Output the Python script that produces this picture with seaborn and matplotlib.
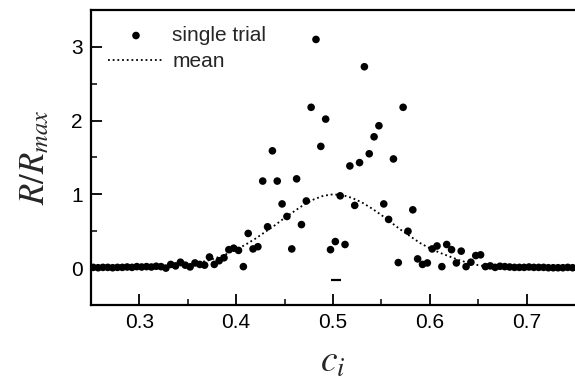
import matplotlib
matplotlib.use("Agg")
import matplotlib.pyplot as plt
import seaborn as sns
import pandas as pd

# ---- data ----
trial_c = [0.2525, 0.2575, 0.2625, 0.2675, 0.2725, 0.2775, 0.2825, 0.2875, 0.2925, 0.2975,
           0.3025, 0.3075, 0.3125, 0.3175, 0.3225, 0.3275, 0.3325, 0.3375, 0.3425, 0.3475,
           0.3525, 0.3575, 0.3625, 0.3675, 0.3725, 0.3775, 0.3825, 0.3875, 0.3925, 0.3975,
           0.4025, 0.4075, 0.4125, 0.4175, 0.4225, 0.4275, 0.4325, 0.4375, 0.4425, 0.4475,
           0.4525, 0.4575, 0.4625, 0.4675, 0.4725, 0.4775, 0.4825, 0.4875, 0.4925, 0.4975,
           0.5025, 0.5075, 0.5125, 0.5175, 0.5225, 0.5275, 0.5325, 0.5375, 0.5425, 0.5475,
           0.5525, 0.5575, 0.5625, 0.5675, 0.5725, 0.5775, 0.5825, 0.5875, 0.5925, 0.5975,
           0.6025, 0.6075, 0.6125, 0.6175, 0.6225, 0.6275, 0.6325, 0.6375, 0.6425, 0.6475,
           0.6525, 0.6575, 0.6625, 0.6675, 0.6725, 0.6775, 0.6825, 0.6875, 0.6925, 0.6975,
           0.7025, 0.7075, 0.7125, 0.7175, 0.7225, 0.7275, 0.7325, 0.7375, 0.7425, 0.7475]
trial_r = [0.01, 0.005, 0.01, 0.01, 0.005, 0.01, 0.01, 0.015, 0.01, 0.02,
           0.015, 0.02, 0.015, 0.025, 0.02, 0.0, 0.05, 0.03, 0.08, 0.04,
           0.016, 0.07, 0.05, 0.04, 0.15, 0.05, 0.10, 0.14, 0.25, 0.27,
           0.24, 0.02, 0.47, 0.26, 0.29, 1.18, 0.56, 1.59, 1.18, 0.87,
           0.70, 0.26, 1.21, 0.59, 0.91, 2.18, 3.10, 1.65, 2.02, 0.25,
           0.36, 0.98, 0.32, 1.385, 0.85, 1.43, 2.73, 1.55, 1.78, 1.93,
           0.87, 0.66, 1.48, 0.075, 2.18, 0.50, 0.79, 0.125, 0.05, 0.07,
           0.26, 0.30, 0.02, 0.32, 0.25, 0.07, 0.23, 0.02, 0.08, 0.17,
           0.18, 0.02, 0.03, 0.01, 0.025, 0.02, 0.015, 0.01, 0.01, 0.01,
           0.015, 0.01, 0.01, 0.01, 0.005, 0.005, 0.005, 0.005, 0.01, 0.005]

mean_c = [0.25, 0.26, 0.27, 0.28, 0.29, 0.30, 0.31, 0.32, 0.33, 0.34, 0.35, 0.36, 0.37,
          0.38, 0.39, 0.40, 0.41, 0.42, 0.43, 0.44, 0.45, 0.46, 0.47, 0.48, 0.49, 0.50,
          0.51, 0.52, 0.53, 0.54, 0.55, 0.56, 0.57, 0.58, 0.59, 0.60, 0.61, 0.62, 0.63,
          0.64, 0.65, 0.66, 0.67, 0.68, 0.69, 0.70, 0.71, 0.72, 0.73, 0.74, 0.75]
mean_r = [0.0, 0.0, 0.0, 0.0, 0.0, 0.005, 0.01, 0.015, 0.02, 0.03, 0.05, 0.07, 0.10,
          0.14, 0.19, 0.25, 0.32, 0.40, 0.49, 0.58, 0.68, 0.77, 0.86, 0.93, 0.98, 1.0,
          0.99, 0.95, 0.89, 0.81, 0.72, 0.62, 0.52, 0.43, 0.34, 0.27, 0.21, 0.16, 0.11,
          0.07, 0.04, 0.02, 0.01, 0.0, 0.0, 0.0, 0.0, 0.0, 0.0, 0.0, 0.0]

# small stray dash visible under the peak
dash_c = [0.503]
dash_r = [-0.16]

x_ticks = [0.3, 0.4, 0.5, 0.6, 0.7]
y_ticks = [0, 1, 2, 3]

# ---- styling ----
sns.set_style("ticks")
plt.rcParams["font.family"] = ["Liberation Sans", "DejaVu Sans"]
plt.rcParams["mathtext.fontset"] = "stix"

fig = plt.figure(figsize=(5.75, 3.82), dpi=100)
ax = fig.add_axes([0.158, 0.2016, 0.842, 0.7724])

df_trial = pd.DataFrame({"c": trial_c, "r": trial_r})
df_mean = pd.DataFrame({"c": mean_c, "r": mean_r})

sns.lineplot(data=df_mean, x="c", y="r", ax=ax, color="black",
             linestyle=(0, (1, 1.6)), linewidth=1.3, label="mean", zorder=2)
sns.scatterplot(data=df_trial, x="c", y="r", ax=ax, color="black", s=30,
                edgecolor="none", label="single trial", zorder=3)
ax.plot(dash_c, dash_r, marker="_", markersize=7, mew=1.6, color="black",
        linestyle="none")

ax.set_xlim(0.25, 0.75)
ax.set_ylim(-0.5, 3.5)
ax.set_xticks(x_ticks)
ax.set_xticklabels([f"{v:.1f}" for v in x_ticks])
ax.set_yticks(y_ticks)
ax.set_xticks([0.35, 0.45, 0.55, 0.65], minor=True)
ax.set_yticks([-0.5, 0.5, 1.5, 2.5], minor=True)

ax.tick_params(axis="both", which="major", direction="in", length=8, width=1.3,
               labelsize=15, pad=6, color="black", labelcolor="black")
ax.tick_params(axis="both", which="minor", direction="in", length=4.5, width=1.3)
ax.tick_params(top=False, right=False, which="both")

for side in ["left", "bottom", "top"]:
    ax.spines[side].set_linewidth(1.6)
    ax.spines[side].set_color("black")
ax.spines["right"].set_visible(False)

ax.set_xlabel("$c_i$", fontsize=27, labelpad=8)
ax.set_ylabel("$R/R_{max}$", fontsize=25, labelpad=14)

handles, labels = ax.get_legend_handles_labels()
order = [labels.index("single trial"), labels.index("mean")]
ax.legend([handles[i] for i in order], [labels[i] for i in order],
          loc="upper left", frameon=False, fontsize=15, handlelength=2.7,
          handletextpad=0.4, labelspacing=0.35, borderaxespad=0.3,
          bbox_to_anchor=(0.005, 0.995))

fig.savefig("out.png", dpi=100)
